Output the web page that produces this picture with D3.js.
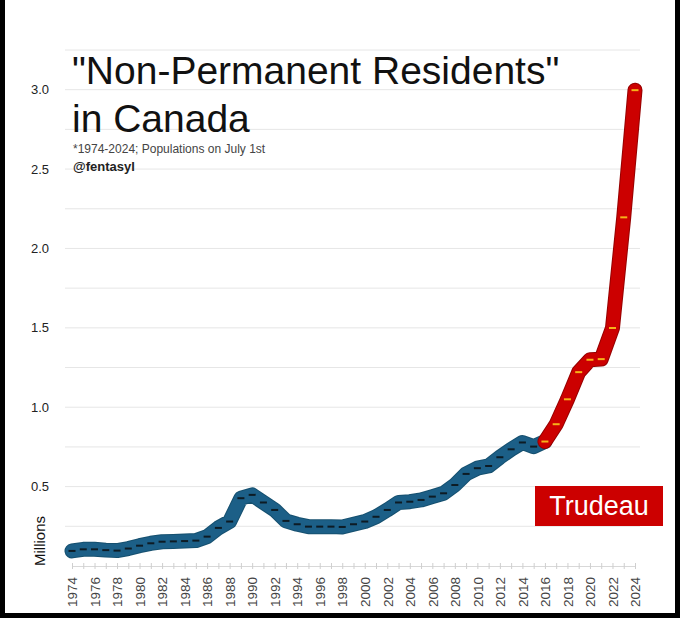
<!DOCTYPE html>
<html>
<head>
<meta charset="utf-8">
<script src="https://cdn.jsdelivr.net/npm/d3@7"></script>
<style>
  html, body { margin: 0; padding: 0; background: #000; }
  svg { display: block; }
  text { font-family: "Liberation Sans", Arial, sans-serif; }
</style>
</head>
<body>
<div id="chart"></div>
<script>
// years on the x axis
var years = [1974, 1975, 1976, 1977, 1978, 1979, 1980, 1981, 1982, 1983,
             1984, 1985, 1986, 1987, 1988, 1989, 1990, 1991, 1992, 1993,
             1994, 1995, 1996, 1997, 1998, 1999, 2000, 2001, 2002, 2003,
             2004, 2005, 2006, 2007, 2008, 2009, 2010, 2011, 2012, 2013,
             2014, 2015, 2016, 2017, 2018, 2019, 2020, 2021, 2022, 2023, 2024];

// non-permanent residents, millions
var residents = [0.095, 0.105, 0.105, 0.100, 0.097, 0.110, 0.128, 0.143, 0.153, 0.155,
                 0.157, 0.160, 0.185, 0.240, 0.280, 0.427, 0.448, 0.400, 0.353, 0.284,
                 0.263, 0.248, 0.248, 0.248, 0.246, 0.263, 0.280, 0.310, 0.353, 0.400,
                 0.405, 0.416, 0.437, 0.458, 0.510, 0.580, 0.616, 0.630, 0.685, 0.735,
                 0.778, 0.752, 0.784, 0.893, 1.050, 1.221, 1.299, 1.303, 1.499, 2.196, 2.997];

var trudeauStart = 2016;
var yTickLabels = [0.5, 1.0, 1.5, 2.0, 2.5, 3.0];
var gridValues = [0.25, 0.5, 0.75, 1.0, 1.25, 1.5, 1.75, 2.0, 2.25, 2.5, 2.75, 3.0, 3.25];

var data = years.map(function(yr, i) { return {year: yr, value: residents[i]}; });
var before = data.filter(function(d) { return d.year <= trudeauStart; });
var after = data.filter(function(d) { return d.year >= trudeauStart; });

var svg = d3.select("#chart").append("svg")
    .attr("width", 680)
    .attr("height", 618);

// white card inside the black frame
svg.append("rect")
    .attr("x", 5).attr("y", 0)
    .attr("width", 670).attr("height", 613)
    .attr("fill", "#fff");

var x = d3.scaleLinear().domain([1974, 2024]).range([72, 635]);
var y = d3.scaleLinear().domain([0, 3.25]).range([566, 50]);

// gridlines
svg.append("g")
    .selectAll("line")
    .data(gridValues)
    .enter().append("line")
    .attr("x1", 65).attr("x2", 640)
    .attr("y1", function(d) { return y(d); })
    .attr("y2", function(d) { return y(d); })
    .attr("stroke", "#e6e6e6")
    .attr("stroke-width", 1);

// y labels
svg.append("g")
    .selectAll("text")
    .data(yTickLabels)
    .enter().append("text")
    .attr("x", 49)
    .attr("y", function(d) { return y(d); })
    .attr("dy", "0.35em")
    .attr("text-anchor", "end")
    .attr("font-size", 13)
    .attr("fill", "#222")
    .text(function(d) { return d.toFixed(1); });

svg.append("text")
    .attr("transform", "translate(45,566) rotate(-90)")
    .attr("font-size", 15)
    .attr("fill", "#111")
    .text("Millions");

// x axis
var xAxis = svg.append("g")
    .attr("transform", "translate(0," + y(0) + ")")
    .call(d3.axisBottom(x)
        .tickValues(years)
        .tickSize(3)
        .tickFormat(function(d) { return d % 2 === 0 ? d : ""; }));

xAxis.select(".domain").attr("stroke", "#d8d8d8");
xAxis.selectAll(".tick line").attr("stroke", "#cfcfcf").attr("y1", -3);
xAxis.selectAll(".tick text")
    .attr("transform", "rotate(-90)")
    .attr("x", -11)
    .attr("y", 0)
    .attr("dy", "0.35em")
    .attr("text-anchor", "end")
    .attr("font-size", 13.5)
    .attr("font-family", "Liberation Sans, Arial, sans-serif")
    .attr("fill", "#444");

var line = d3.line()
    .x(function(d) { return x(d.year); })
    .y(function(d) { return y(d.value); });

function drawSeries(points, outline, fill, marker) {
    var g = svg.append("g");
    g.append("path")
        .datum(points)
        .attr("d", line)
        .attr("fill", "none")
        .attr("stroke", outline)
        .attr("stroke-width", 15)
        .attr("stroke-linecap", "round")
        .attr("stroke-linejoin", "round");
    g.append("path")
        .datum(points)
        .attr("d", line)
        .attr("fill", "none")
        .attr("stroke", fill)
        .attr("stroke-width", 13)
        .attr("stroke-linecap", "round")
        .attr("stroke-linejoin", "round");
    g.selectAll("line")
        .data(points)
        .enter().append("line")
        .attr("x1", function(d) { return x(d.year) - 3.5; })
        .attr("x2", function(d) { return x(d.year) + 3.5; })
        .attr("y1", function(d) { return y(d.value); })
        .attr("y2", function(d) { return y(d.value); })
        .attr("stroke", marker)
        .attr("stroke-width", 2);
}

drawSeries(before, "#16506f", "#1c5f87", "#0d1b24");
drawSeries(after, "#960000", "#cc0000", "#f6b21a");

// title block
var title = svg.append("g");
title.append("text")
    .attr("x", 72).attr("y", 84)
    .attr("font-size", 39)
    .attr("fill", "#111")
    .text("\"Non-Permanent Residents\"");
title.append("text")
    .attr("x", 72).attr("y", 132)
    .attr("font-size", 39)
    .attr("fill", "#111")
    .text("in Canada");
title.append("text")
    .attr("x", 73).attr("y", 153)
    .attr("font-size", 12)
    .attr("fill", "#444")
    .text("*1974-2024; Populations on July 1st");
title.append("text")
    .attr("x", 73).attr("y", 171)
    .attr("font-size", 13)
    .attr("font-weight", "bold")
    .attr("fill", "#222")
    .text("@fentasyl");

// Trudeau label
svg.append("rect")
    .attr("x", 535).attr("y", 486)
    .attr("width", 128).attr("height", 40)
    .attr("fill", "#cc0000");
svg.append("text")
    .attr("x", 599).attr("y", 515)
    .attr("text-anchor", "middle")
    .attr("font-size", 27)
    .attr("fill", "#fff")
    .text("Trudeau");
</script>
</body>
</html>
